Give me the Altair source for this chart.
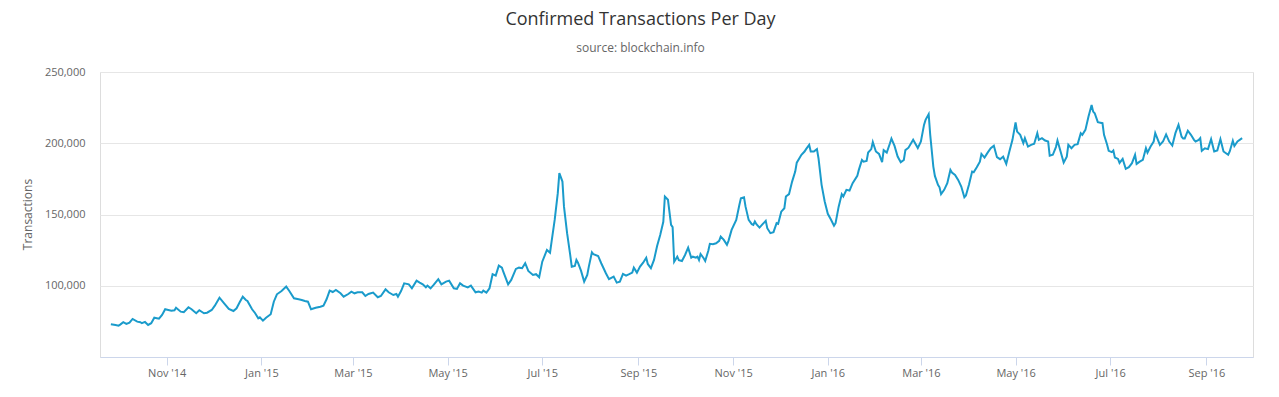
import altair as alt
import pandas as pd

start_date = "2014-09-26"

# day offsets from start_date
day_offsets = [
    0, 3, 5, 6, 8, 10, 12, 14, 17, 19, 20, 22, 24, 26, 28, 31, 33, 35, 37, 39, 41, 42, 45, 47, 50, 52, 55, 57, 60, 62, 65, 67, 70, 73, 76, 79, 81, 83, 85, 87,
    88, 91, 93, 95, 96, 98, 100, 103, 105, 107, 110, 113, 115, 118, 121, 123, 125, 127, 129, 132, 135, 137, 139, 141, 143, 145, 148, 150, 153, 155, 157, 159, 162, 164, 166, 169, 172, 174, 177, 179, 182,
    184, 185, 187, 189, 192, 194, 197, 199, 201, 203, 204, 206, 208, 211, 213, 216, 218, 221, 223, 225, 227, 230, 232, 235, 237, 239, 240, 242, 244, 246, 248, 250, 252, 253, 256, 258, 261, 263, 265, 267, 269, 272, 274, 276,
    278, 281, 283, 284, 286, 288, 289, 291, 292, 294, 296, 297, 299, 300, 301, 303, 305, 307, 308, 310, 311, 314, 316, 319, 321, 324, 326, 328, 330, 332, 334, 336, 337, 339, 341, 343, 345, 346, 348, 350, 352, 354, 356, 357, 359, 361, 362, 363, 365, 366, 368,
    370, 372, 374, 375, 377, 378, 379, 380, 382, 383, 385, 386, 388, 390, 392, 393, 395, 397, 398, 400, 403, 405, 406, 408, 409, 411, 413, 414, 415, 416, 418, 420, 422, 423, 425, 427, 429, 430, 432, 434, 435, 437, 439, 441, 442, 445, 447, 448, 450, 451, 453, 455, 456, 458, 460, 462,
    464, 466, 467, 469, 471, 472, 474, 476, 478, 481, 482, 484, 485, 487, 488, 490, 491, 493, 495, 497, 498, 500, 502, 503, 505, 507, 509, 511, 512, 514, 517, 518, 520, 522, 524, 525, 527, 528, 530, 531, 533, 534, 535, 537, 539, 541, 542, 544, 546, 548, 550, 551, 553, 555, 556,
    558, 560, 561, 563, 565, 567, 569, 571, 573, 575, 577, 579, 581, 583, 584, 586, 588, 589, 591, 593, 595, 597, 598, 600, 602, 604, 605, 607, 609, 610, 612, 614, 616, 617, 619, 621, 623, 625, 626, 628, 630, 632, 633, 634, 636, 639, 640, 642, 643, 645, 646, 647, 649, 650,
    652, 654, 656, 658, 660, 661, 663, 665, 667, 668, 670, 672, 673, 676, 678, 680, 682, 684, 686, 688, 690, 691, 692, 694, 696, 698, 699, 701, 702, 703, 705, 707, 709, 711, 713, 715, 717, 720, 721, 723, 724, 726, 729,
]

transactions = [
    73000, 72500, 72000, 72700, 74400, 73200, 74100, 76700, 74800, 74400, 73700, 74600, 72500, 73700, 77600, 76900, 79500, 83500, 83000, 82500, 82800, 84600, 81800, 81400, 84900, 83500, 80700, 82800, 80700, 81100, 83000, 86000, 91600, 87700, 83700, 82300, 84200, 88400, 92300, 90000,
    89300, 83500, 80700, 77200, 77900, 75500, 77600, 80000, 88800, 94000, 96300, 99400, 96300, 91200, 90500, 90000, 89300, 88800, 83500, 84600, 85300, 86000, 90500, 96600, 95600, 97000, 94700, 92300, 94200, 95900, 94700, 95400, 95400, 92800, 94200, 95200, 91900, 92800, 97500, 95400, 93500,
    94200, 92300, 96300, 101700, 101000, 98200, 103600, 102200, 101000, 98900, 100100, 98200, 100600, 104600, 101000, 102900, 103600, 98200, 97800, 101700, 100100, 98900, 100100, 95400, 95900, 95200, 96600, 95200, 98200, 108100, 107100, 114100, 112700, 109500, 101000, 104100, 111800, 112700, 112300, 115800, 110400, 107600, 108100, 106000,
    116900, 125100, 123200, 131000, 146200, 165000, 179000, 173100, 155500, 136900, 121600, 113400, 113900, 118100, 116200, 110400, 102900, 107600, 113400, 123500, 122100, 120900, 115800, 108800, 104600, 106400, 102200, 102900, 108300, 107100, 108100, 109200, 112700, 109200, 113400, 116200, 119700, 115300, 112300, 118100, 127900, 135600, 144900, 162600, 160300, 142700, 141100, 116900, 120400, 118000, 117400,
    121600, 126700, 119700, 120400, 119700, 120400, 118100, 122300, 119300, 117400, 124600, 129400, 129100, 129800, 131500, 134500, 132200, 128700, 131500, 139200, 146200, 156700, 161400, 162100, 155500, 146200, 143200, 142700, 145100, 143200, 140800, 143200, 145500, 140400, 136900, 137600, 143900, 143400, 152000, 154400, 162600, 164300, 173100, 180100, 186400, 191900, 194200, 195900, 198900, 194200, 194200, 195900, 189500, 170800, 159100, 150500,
    146500, 142200, 143900, 155500, 164300, 162600, 167300, 166800, 172000, 177100, 181300, 188300, 187100, 187600, 193500, 195900, 200800, 194200, 192500, 186700, 195200, 193500, 199800, 203300, 198100, 190700, 186700, 188300, 195200, 196900, 202400, 200500, 196600, 201200, 212900, 216400, 220400, 205900, 183600, 177100, 170800, 169100, 164300, 167300, 172000, 181300, 179400, 177800, 174300, 169600, 162100, 163300, 171000, 180100, 179700,
    183200, 187100, 192500, 189900, 193400, 196500, 198300, 190200, 188800, 190600, 185500, 194200, 202400, 214600, 208200, 205900, 200100, 203600, 197700, 198900, 199600, 207100, 202400, 203600, 201900, 201200, 191200, 191900, 197300, 201900, 194200, 186400, 190600, 198900, 196500, 198900, 199400, 207100, 205900, 209400, 218700, 226900, 222200, 221100, 214800, 214100, 205900, 198900, 194700, 193800, 194900, 190000, 189000, 186200,
    189000, 182000, 183200, 186000, 191900, 185500, 187100, 188300, 196500, 193400, 197700, 201200, 207100, 198900, 201200, 206200, 201200, 198400, 207100, 212900, 204600, 203400, 203400, 208800, 205900, 202400, 201200, 202400, 203600, 194700, 196500, 195900, 202800, 194200, 194900, 202800, 194200, 191900, 194200, 201700, 198100, 201200, 203600,
]

tick_months = [(2014, 11), (2015, 1), (2015, 3), (2015, 5), (2015, 7), (2015, 9), (2015, 11),
               (2016, 1), (2016, 3), (2016, 5), (2016, 7), (2016, 9)]
y_ticks = [100000, 150000, 200000, 250000]

n = min(len(day_offsets), len(transactions))
dates = (pd.Timestamp(start_date) + pd.to_timedelta(day_offsets[:n], unit="D")).strftime("%Y-%m-%dT00:00:00")
df = pd.DataFrame({"date": list(dates), "tx": transactions[:n]})

x_ticks = [alt.DateTime(year=y, month=m, date=1) for y, m in tick_months]
x_domain = [alt.DateTime(year=2014, month=9, date=19), alt.DateTime(year=2016, month=10, date=1)]

FONT = "Open Sans"

chart = alt.Chart(df).mark_line(color="#1a9bcb", strokeWidth=2).encode(
    x=alt.X("date:T", title=None,
            scale=alt.Scale(domain=x_domain),
            axis=alt.Axis(values=x_ticks, format="%b '%y", grid=False,
                          domainColor="#ccd6eb", tickColor="#ccd6eb", tickSize=8,
                          labelPadding=2, labelFontSize=11, labelColor="#666666",
                          labelFont=FONT, labelFlush=False)),
    y=alt.Y("tx:Q", title="Transactions",
            scale=alt.Scale(domain=[50000, 250000], nice=False, zero=False),
            axis=alt.Axis(values=y_ticks, format=",.0f", grid=True, gridColor="#e6e6e6",
                          domain=False, ticks=False, labelPadding=15, labelFontSize=11,
                          labelColor="#666666", labelFont=FONT,
                          titleFont=FONT, titleFontSize=12, titleColor="#666666",
                          titleFontWeight="normal", titleX=-73, titleY=142,
                          titleAngle=270, titleAlign="center", titleBaseline="middle")),
).properties(
    width=1153,
    height=285,
    autosize=alt.AutoSizeParams(type="none"),
    padding={"left": 92, "top": 64, "right": 18, "bottom": 32},
    title=alt.TitleParams(text="Confirmed Transactions Per Day",
                          subtitle="source: blockchain.info",
                          font=FONT, fontSize=18, fontWeight="normal", color="#333333",
                          subtitleFont=FONT, subtitleFontSize=12, subtitleColor="#666666",
                          subtitlePadding=14, anchor="middle", dx=-36, offset=12),
).configure_view(strokeWidth=0).configure(background="white")

chart.save("out.html", embed_options={"renderer": "svg", "actions": False})
